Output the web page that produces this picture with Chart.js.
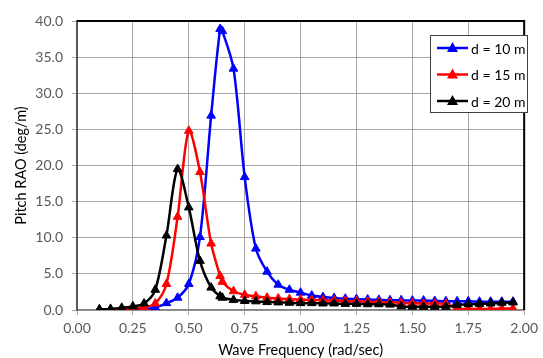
<!DOCTYPE html>
<html lang="en">
<head>
  <meta charset="UTF-8">
  <title>Pitch RAO</title>
  <script src="https://cdn.jsdelivr.net/npm/chart.js"></script>
  <style>
    body { margin: 0; background: #fff; }
    canvas { display: block; }
  </style>
</head>
<body>
  <canvas id="raoChart" width="543" height="358"></canvas>

  <script>
    // wave frequency (rad/sec)
    const freq = [0.10, 0.15, 0.20, 0.25, 0.30, 0.35, 0.40, 0.45, 0.50, 0.55, 0.60, 0.64, 0.65,
      0.70, 0.75, 0.80, 0.85, 0.90, 0.95, 1.00, 1.05, 1.10, 1.15, 1.20, 1.25, 1.30, 1.35, 1.40,
      1.45, 1.50, 1.55, 1.60, 1.65, 1.70, 1.75, 1.80, 1.85, 1.90, 1.95];

    // pitch RAO (deg/m)
    const rao10 = [0.0, 0.0, 0.0, 0.05, 0.15, 0.35, 0.95, 1.7, 3.6, 10.1, 26.9, 38.9, 38.6,
      33.4, 18.4, 8.5, 5.3, 3.5, 2.8, 2.4, 2.0, 1.8, 1.65, 1.55, 1.5, 1.45, 1.4, 1.35,
      1.35, 1.3, 1.3, 1.25, 1.2, 1.2, 1.2, 1.15, 1.15, 1.15, 1.15];
    const rao15 = [0.0, 0.05, 0.1, 0.2, 0.4, 0.9, 3.6, 12.9, 24.8, 19.1, 9.2, 4.7, 3.9,
      2.6, 2.1, 1.9, 1.7, 1.6, 1.5, 1.45, 1.4, 1.35, 1.3, 1.25, 1.2, 1.15, 1.1, 1.05,
      1.0, 0.95, 0.9, 0.9, 0.85, 0.15, 0.15, 0.15, 0.15, 0.2, 0.2];
    const rao20 = [0.1, 0.15, 0.3, 0.5, 0.9, 2.8, 10.3, 19.5, 14.2, 6.8, 3.1, 1.9, 1.7,
      1.4, 1.25, 1.2, 1.1, 1.05, 1.0, 0.95, 0.95, 0.9, 0.9, 0.85, 0.85, 0.8, 0.8, 0.75,
      0.5, 0.45, 0.45, 0.45, 0.45, 0.7, 0.8, 0.85, 0.9, 1.0, 1.05];

    const seriesLabels = ['d = 10 m', 'd = 15 m', 'd = 20 m'];
    const seriesColors = ['#0000ff', '#ff0000', '#000000'];

    const FONT = 'Lato, "Liberation Sans", sans-serif';

    function toPoints(ys) {
      return freq.map((x, i) => ({ x: x, y: ys[i] }));
    }

    function makeSet(i, ys) {
      return {
        label: seriesLabels[i],
        data: toPoints(ys),
        borderColor: seriesColors[i],
        backgroundColor: seriesColors[i],
        borderWidth: 2.5,
        pointStyle: 'triangle',
        pointRadius: 5,
        pointBorderWidth: 1,
        tension: 0.3,
        order: 3 - i
      };
    }

    // top/right black frame + boxed legend inside the plot
    const framePlugin = {
      id: 'frame',
      afterDraw(chart) {
        const ctx = chart.ctx;
        const a = chart.chartArea;
        ctx.save();
        ctx.strokeStyle = '#000';
        ctx.lineWidth = 2;
        ctx.beginPath();
        ctx.moveTo(a.left, a.top);
        ctx.lineTo(a.right, a.top);
        ctx.lineTo(a.right, a.bottom);
        ctx.stroke();

        const bx = 430.5, by = 35.5, bw = 97, bh = 77;
        ctx.fillStyle = '#fff';
        ctx.fillRect(bx, by, bw, bh);
        ctx.strokeStyle = '#404040';
        ctx.lineWidth = 1;
        ctx.strokeRect(bx, by, bw, bh);

        ctx.font = '14px ' + FONT;
        ctx.textBaseline = 'middle';
        chart.data.datasets.forEach((ds, i) => {
          const y = 48 + i * 26.5;
          ctx.strokeStyle = ds.borderColor;
          ctx.lineWidth = 2.5;
          ctx.beginPath();
          ctx.moveTo(437, y);
          ctx.lineTo(468, y);
          ctx.stroke();
          ctx.fillStyle = ds.borderColor;
          ctx.beginPath();
          ctx.moveTo(452.5, y - 6);
          ctx.lineTo(458, y + 4);
          ctx.lineTo(447, y + 4);
          ctx.closePath();
          ctx.fill();
          ctx.fillStyle = '#000';
          ctx.fillText(ds.label, 471, y + 1);
        });
        ctx.restore();
      }
    };

    new Chart(document.getElementById('raoChart'), {
      type: 'line',
      data: {
        datasets: [makeSet(0, rao10), makeSet(1, rao15), makeSet(2, rao20)]
      },
      options: {
        responsive: false,
        animation: false,
        layout: { padding: { top: 21, right: 13, left: 0, bottom: 0 } },
        plugins: {
          legend: { display: false },
          tooltip: { enabled: false }
        },
        scales: {
          x: {
            type: 'linear',
            min: 0,
            max: 2,
            afterFit: s => { s.height = 48; },
            ticks: {
              stepSize: 0.25,
              padding: 5,
              color: '#595959',
              font: { family: FONT, size: 14 },
              callback: v => v.toFixed(2)
            },
            grid: { color: '#a6a6a6', lineWidth: 1, tickLength: 5 },
            border: { color: '#808080', width: 1.5 },
            title: {
              display: true,
              text: 'Wave Frequency (rad/sec)',
              color: '#000',
              font: { family: FONT, size: 14.5, lineHeight: 1 },
              padding: 0
            }
          },
          y: {
            min: 0,
            max: 40,
            afterFit: s => { s.width = 77; },
            ticks: {
              stepSize: 5,
              padding: 9,
              color: '#595959',
              font: { family: FONT, size: 14 },
              callback: v => v.toFixed(1)
            },
            grid: { color: '#a6a6a6', lineWidth: 1, tickLength: 5 },
            border: { color: '#595959', width: 2 },
            title: {
              display: true,
              text: 'Pitch RAO (deg/m)',
              color: '#000',
              font: { family: FONT, size: 14.5 },
              padding: { top: 13, bottom: 0 }
            }
          }
        }
      },
      plugins: [framePlugin]
    });
  </script>
</body>
</html>
